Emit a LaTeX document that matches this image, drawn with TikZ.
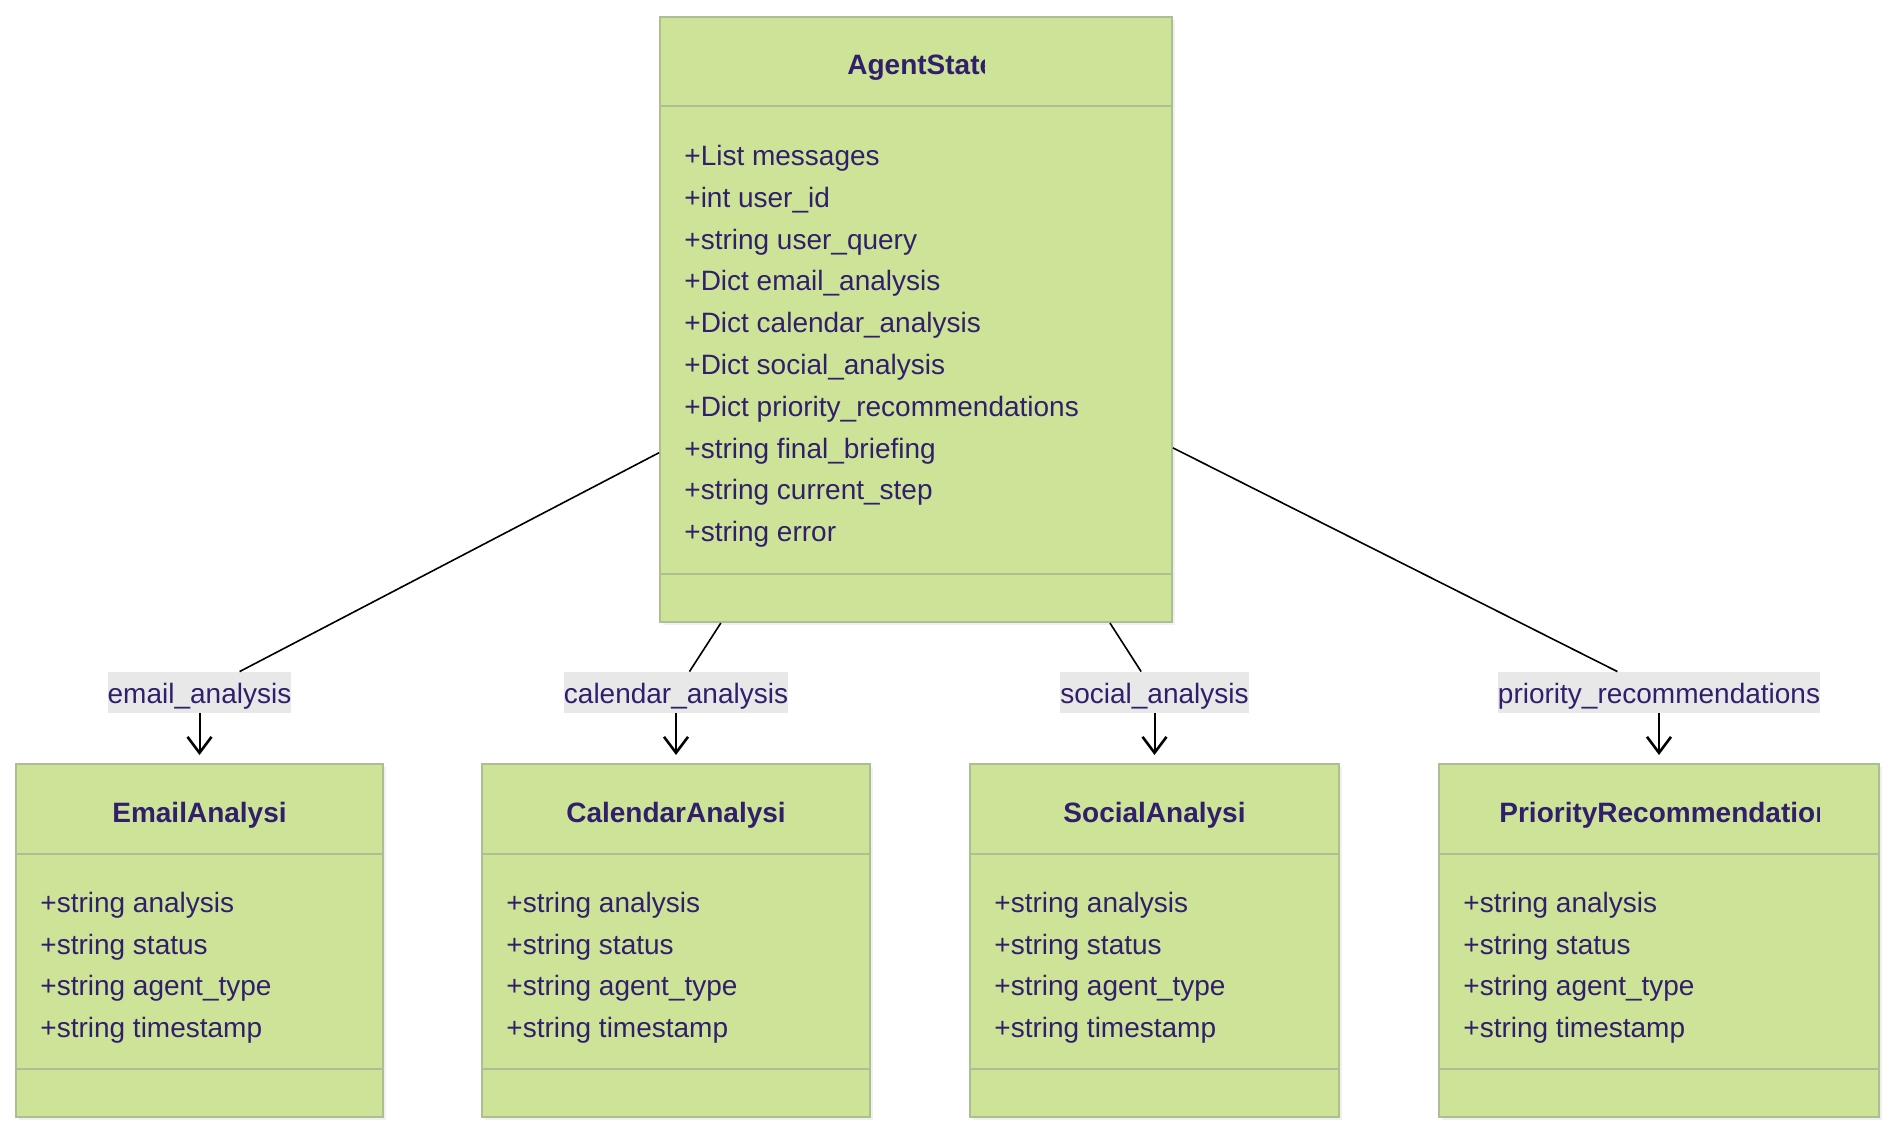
\documentclass[tikz,border=0pt]{standalone}
\usepackage{fontspec}
\setmainfont{Liberation Sans}
\usetikzlibrary{arrows.meta,shadows}

\definecolor{classfill}{HTML}{CDE498}
\definecolor{classline}{HTML}{ADBE95}
\definecolor{classtext}{HTML}{311F6C}
\definecolor{labelfill}{HTML}{E8E8E8}

\tikzset{
	classbox/.style={draw=classline, line width=1pt, fill=classfill, inner sep=0pt, drop shadow={opacity=0.12, shadow xshift=1.5pt, shadow yshift=-1.5pt}},
	classname/.style={text=classtext, font=\bfseries\fontsize{14}{17}\selectfont, inner sep=0pt, text height=10pt, text depth=3pt},
	member/.style={text=classtext, font=\fontsize{14}{17}\selectfont, inner sep=0pt, anchor=west, text height=10pt, text depth=3pt},
	edgelabel/.style={fill=labelfill, text=classtext, font=\fontsize{14}{17}\selectfont, inner xsep=0pt, inner ysep=0pt, text height=12pt, text depth=1.4pt, minimum height=20.5pt},
	link/.style={line width=0.8pt},
	arrowlink/.style={line width=1pt, -{Straight Barb[length=8pt,width=12pt,line width=1.3pt]}, shorten >=4pt},
	divider/.style={draw=classline, line width=1pt},
}

\begin{document}
\begin{tikzpicture}[x=0.5pt,y=-0.5pt]
	\useasboundingbox (0,0) rectangle (1895,1134);

	% class boxes
	\node[classbox, minimum width=256pt, minimum height=302.5pt] (agent) at (916,319.5) {};
	\node[classbox, minimum width=183.5pt, minimum height=176.5pt] (email) at (199.5,940.5) {};
	\node[classbox, minimum width=194pt, minimum height=176.5pt] (calendar) at (676,940.5) {};
	\node[classbox, minimum width=184.5pt, minimum height=176.5pt] (social) at (1154.5,940.5) {};
	\node[classbox, minimum width=220pt, minimum height=176.5pt] (priority) at (1659,940.5) {};

	\draw[divider] (agent.west |- 0,106) -- (agent.east |- 0,106);
	\draw[divider] (agent.west |- 0,574) -- (agent.east |- 0,574);
	\foreach \b in {email,calendar,social,priority}{
		\draw[divider] (\b.west |- 0,854) -- (\b.east |- 0,854);
		\draw[divider] (\b.west |- 0,1069) -- (\b.east |- 0,1069);
	}

	% titles
	\begin{scope}
		\clip (847,30) rectangle (984,100);
		\node[classname, anchor=west] (tagent) at (847,67.5) {AgentState};
	\end{scope}
	\node[classname] (temail) at (199.5,815.5) {EmailAnalysi};
	\node[classname] (tcalendar) at (676,815.5) {CalendarAnalysi};
	\node[classname] (tsocial) at (1154.5,815.5) {SocialAnalysi};
	\begin{scope}
		\clip (1499,780) rectangle (1819,845);
		\node[classname, anchor=west] (tpriority) at (1499,815.5) {PriorityRecommendations};
	\end{scope}

	% members
	\foreach \m [count=\i from 0] in {+List messages, +int user\_id, +string user\_query, +Dict email\_analysis, +Dict calendar\_analysis, +Dict social\_analysis, +Dict priority\_recommendations, +string final\_briefing, +string current\_step, +string error}
		\node[member] at (684,158.5+41.8*\i) {\m};
	\foreach \x in {40,506,994,1463}
		\foreach \m [count=\i from 0] in {+string analysis, +string status, +string agent\_type, +string timestamp}
			\node[member] at (\x,905.5+41.7*\i) {\m};

	% edge labels
	\node[edgelabel] (lemail) at (199.5,692.5) {email\_analysis};
	\node[edgelabel] (lcalendar) at (676,692.5) {calendar\_analysis};
	\node[edgelabel] (lsocial) at (1154.5,692.5) {social\_analysis};
	\node[edgelabel] (lpriority) at (1659,692.5) {priority\_recommendations};

	% connectors
	\foreach \b in {email,calendar,social,priority}{
		\draw[link] (agent) -- (l\b);
		\draw[arrowlink] (l\b) -- (\b);
	}
\end{tikzpicture}
\end{document}
